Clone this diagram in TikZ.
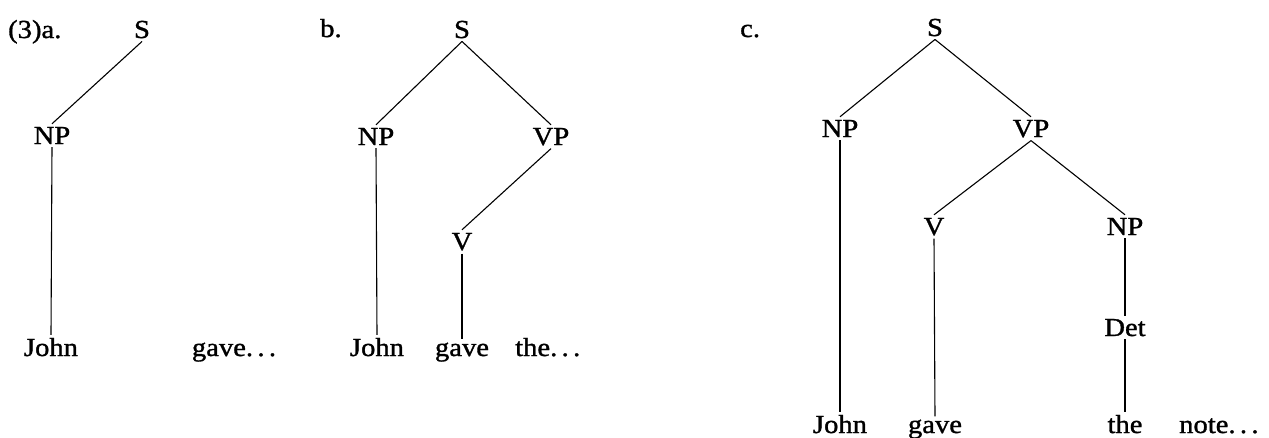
\documentclass[tikz,border=0pt]{standalone}
\usepackage{fontspec}
\setmainfont{Liberation Serif}[FakeStretch=1.1,FakeBold=1.2]
\begin{document}
\begin{tikzpicture}[x=1pt,y=-1pt,
  lbl/.style={anchor=base, inner xsep=0pt, inner ysep=3pt, font=\fontsize{26}{30}\selectfont},
  root/.style={lbl},
  word/.style={lbl},
  edge/.style={line width=1.1pt, black}]
\useasboundingbox (0,0) rectangle (1269,437);
% panel a
\node[lbl, anchor=base west] (la) at (8,38) {(3)a.};
\node[root] (aS) at (142,38) {S};
\node[lbl] (aNP) at (52,144) {NP};
\node[word] (aJohn) at (51,356) {John};
\node[word] (aGave) at (234,356) {gave.\,.\,.};
\draw[edge] (aS.south) -- (aNP.north);
\draw[edge] (aNP.south) -- (aJohn.north);
% panel b
\node[lbl, anchor=base west] (lb) at (320,37) {b.};
\node[root] (bS) at (462,38) {S};
\node[lbl] (bNP) at (376,145) {NP};
\node[lbl] (bVP) at (551,145) {VP};
\node[lbl] (bV) at (462,250) {V};
\node[word] (bJohn) at (377,356) {John};
\node[word] (bGave) at (462,356) {gave};
\node[word, anchor=base west] (bThe) at (515,356) {the.\,.\,.};
\draw[edge] (bS.south) -- (bNP.north);
\draw[edge] (bS.south) -- (bVP.north);
\draw[edge] (bNP.south) -- (bJohn.north);
\draw[edge] (bVP.south) -- (bV.north);
\draw[edge] (bV.south) -- (bGave.north);
% panel c
\node[lbl, anchor=base west] (lc) at (740,37) {c.};
\node[root] (cS) at (935,36) {S};
\node[lbl] (cNP) at (840,137) {NP};
\node[lbl] (cVP) at (1031,137) {VP};
\node[lbl] (cV) at (934,235) {V};
\node[lbl] (cNPb) at (1125,235) {NP};
\node[lbl] (cDet) at (1125,336) {Det};
\node[word] (cJohn) at (840,433) {John};
\node[word] (cGave) at (935,433) {gave};
\node[word] (cThe) at (1125,433) {the};
\node[word, anchor=base west] (cNote) at (1179,433) {note.\,.\,.};
\draw[edge] (cS.south) -- (cNP.north);
\draw[edge] (cS.south) -- (cVP.north);
\draw[edge] (cNP.south) -- (cJohn.north);
\draw[edge] (cVP.south) -- (cV.north);
\draw[edge] (cVP.south) -- (cNPb.north);
\draw[edge] (cV.south) -- (cGave.north);
\draw[edge] (cNPb.south) -- (cDet.north);
\draw[edge] (cDet.south) -- (cThe.north);
\end{tikzpicture}
\end{document}
